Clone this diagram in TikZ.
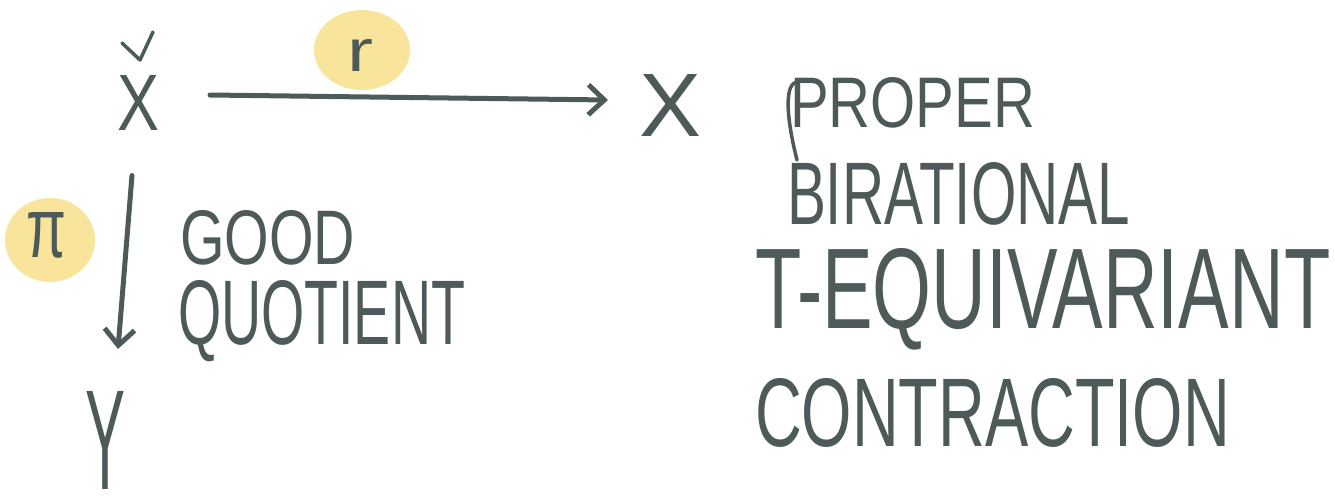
\documentclass[tikz,border=0pt]{standalone}
\usepackage{fontspec}
\setmainfont{Liberation Sans}
\usepackage{graphicx}
\usetikzlibrary{arrows.meta,calc}
\definecolor{ink}{HTML}{4E5A59}
\definecolor{hl}{HTML}{F8E59B}
\tikzset{
  every node/.style={inner sep=0pt, outer sep=0pt, text=ink},
  pen/.style={draw=ink, line width=5pt, line cap=round, line join=round},
  thinpen/.style={draw=ink, line width=3.5pt, line cap=round, line join=round},
  blob/.style={fill=hl, draw=none},
  tip/.style={-{Straight Barb[length=16pt,width=30pt,line width=5pt]}},
  lbl/.style={anchor=north west},
}
\begin{document}
\begin{tikzpicture}[x=1pt,y=-1pt]
\useasboundingbox (0,0) rectangle (1335,503);
% highlights
\fill[blob] (362,50) ellipse [x radius=48, y radius=40];
\fill[blob] (50,240) ellipse [x radius=45, y radius=42];
% objects
\node (Xt) at (139,103) {\resizebox{42pt}{55pt}{X}};
\draw[thinpen] (122,43) -- (140,60) -- (153,32);
\node (X) at (670,105) {\resizebox{62pt}{62pt}{X}};
\node (Y) at (106,440) {\resizebox{40pt}{98pt}{Y}};
% morphisms
\draw[pen, tip] ($(Xt.east)+(50,-8)$) -- ($(X.west)+(-31,-5)$);
\node (r) at (360,55) {\resizebox{26pt}{32pt}{r}};
\draw[pen, tip] ($(Xt.south)+(-7,45)$) -- ($(Y.north)+(12,-42)$);
\node (pi) at (47,235) {\resizebox{40pt}{45pt}{π}};
% descriptions
\node[lbl] (good) at (180,210) {\resizebox{175pt}{54pt}{GOOD}};
\node[lbl] (quot) at (178,280) {\resizebox{287pt}{64pt}{QUOTIENT}};
\node[lbl] (proper) at (790,77) {\resizebox{245pt}{50pt}{PROPER}};
\draw[thinpen] ($(proper.north west)+(8,5)$) .. controls ($(proper.north west)+(-6,5)$) and ($(proper.north west)+(-4,40)$) .. ($(proper.north west)+(7,83)$);
\node[lbl] (birat) at (787,162) {\resizebox{343pt}{62pt}{BIRATIONAL}};
\node[lbl] (equiv) at (755,248) {\resizebox{575pt}{80pt}{T-EQUIVARIANT}};
\node[lbl] (contr) at (755,378) {\resizebox{475pt}{68pt}{CONTRACTION}};
\end{tikzpicture}
\end{document}
